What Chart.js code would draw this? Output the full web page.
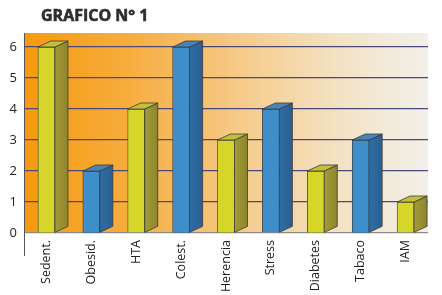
<!DOCTYPE html>
<html>
<head>
<meta charset="utf-8">
<script src="https://cdn.jsdelivr.net/npm/chart.js@4.4.1/dist/chart.umd.min.js"></script>
<style>
  html, body { margin: 0; padding: 0; background: #fff; }
  #wrap { width: 442px; height: 295px; }
</style>
</head>
<body>
<div id="wrap"><canvas id="grafico"></canvas></div>
<script>
// datos del grafico
const categorias = ['Sedent.', 'Obesid.', 'HTA', 'Colest.', 'Herencia', 'Stress', 'Diabetes', 'Tabaco', 'IAM'];
const valores = [6, 2, 4, 6, 3, 4, 2, 3, 1];
const titulo = 'GRAFICO N° 1';

const AMARILLO = { front: '#d6d62a', side: '#a49c34', top: '#c4bf3a' };
const AZUL = { front: '#3d8ec9', side: '#2f6ea6', top: '#4684ba' };
const colores = valores.map((v, i) => i % 2 === 0 ? AMARILLO : AZUL);

const DX = 13, DY = 6;
const EXTRA_ARRIBA = 14; // fondo por encima de la linea del 6

// fondo naranja degradado
const fondo = {
    id: 'fondo',
    beforeDraw(chart) {
        const { ctx, chartArea: a } = chart;
        const g = ctx.createLinearGradient(a.left, 0, a.right, 0);
        g.addColorStop(0, '#f59a0e');
        g.addColorStop(0.25, '#f6ac3c');
        g.addColorStop(0.55, '#f6cc8e');
        g.addColorStop(0.8, '#f3e4c8');
        g.addColorStop(1, '#f2f0ea');
        ctx.save();
        ctx.fillStyle = g;
        ctx.fillRect(a.left, a.top - EXTRA_ARRIBA, a.right - a.left, a.bottom - a.top + EXTRA_ARRIBA);
        ctx.restore();
    },
    afterDraw(chart) {
        const { ctx, chartArea: a } = chart;
        ctx.save();
        // titulo
        ctx.fillStyle = '#2e2e2e';
        ctx.strokeStyle = '#2e2e2e';
        ctx.lineWidth = 0.6;
        ctx.font = 'bold 16px "Open Sans"';
        ctx.textBaseline = 'middle';
        ctx.fillText(titulo, 41, 16);
        ctx.strokeText(titulo, 41, 16);
        // eje vertical que baja por debajo del cero
        ctx.strokeStyle = '#555';
        ctx.lineWidth = 1;
        ctx.beginPath();
        ctx.moveTo(a.left + 0.5, a.top - EXTRA_ARRIBA);
        ctx.lineTo(a.left + 0.5, a.bottom + 23);
        ctx.stroke();
        ctx.restore();
    }
};

// caras laterales y superiores de las barras (efecto 3D)
const barras3d = {
    id: 'barras3d',
    afterDatasetsDraw(chart) {
        const { ctx } = chart;
        const meta = chart.getDatasetMeta(0);
        ctx.save();
        ctx.lineWidth = 0.8;
        ctx.strokeStyle = '#3a3a3a';
        meta.data.forEach((bar, i) => {
            const c = colores[i];
            const l = bar.x - bar.width / 2, r = bar.x + bar.width / 2;
            const t = bar.y, b = bar.base;
            // lateral
            const gs = ctx.createLinearGradient(r, 0, r + DX, 0);
            gs.addColorStop(0, c.side);
            gs.addColorStop(1, c === AZUL ? '#2a5f8f' : '#8c8530');
            ctx.fillStyle = gs;
            ctx.beginPath();
            ctx.moveTo(r, t);
            ctx.lineTo(r + DX, t - DY);
            ctx.lineTo(r + DX, b - DY);
            ctx.lineTo(r, b);
            ctx.closePath();
            ctx.fill();
            ctx.stroke();
            // tapa
            ctx.fillStyle = c.top;
            ctx.beginPath();
            ctx.moveTo(l, t);
            ctx.lineTo(l + DX, t - DY);
            ctx.lineTo(r + DX, t - DY);
            ctx.lineTo(r, t);
            ctx.closePath();
            ctx.fill();
            ctx.stroke();
        });
        ctx.restore();
    }
};

const ctx = document.getElementById('grafico').getContext('2d');
new Chart(ctx, {
    type: 'bar',
    data: {
        labels: categorias,
        datasets: [{
            data: valores,
            backgroundColor: colores.map(c => c.front),
            borderColor: '#3a3a3a',
            borderWidth: 0.8,
            barThickness: 17
        }]
    },
    options: {
        responsive: true,
        maintainAspectRatio: false,
        animation: false,
        layout: { padding: { top: 47, right: 14, bottom: 0, left: 0 } },
        plugins: {
            legend: { display: false },
            tooltip: { enabled: false }
        },
        scales: {
            x: {
                grid: { display: false, drawTicks: false },
                border: { display: false },
                ticks: {
                    color: '#222',
                    font: { family: 'Open Sans', size: 12.5 },
                    maxRotation: 90,
                    minRotation: 90,
                    padding: 7
                },
                afterFit: s => { s.height = 62; }
            },
            y: {
                min: 0,
                max: 6,
                grid: {
                    color: ctx => ctx.tick.value === 0 ? '#8a8a8a' : '#4a4a7a',
                    lineWidth: 1.3,
                    drawTicks: false
                },
                border: { display: false },
                ticks: {
                    stepSize: 1,
                    color: '#222',
                    font: { family: 'Open Sans', size: 13 },
                    padding: 7
                },
                afterFit: s => { s.width = 24; }
            }
        }
    },
    plugins: [fondo, barras3d]
});
</script>
</body>
</html>
